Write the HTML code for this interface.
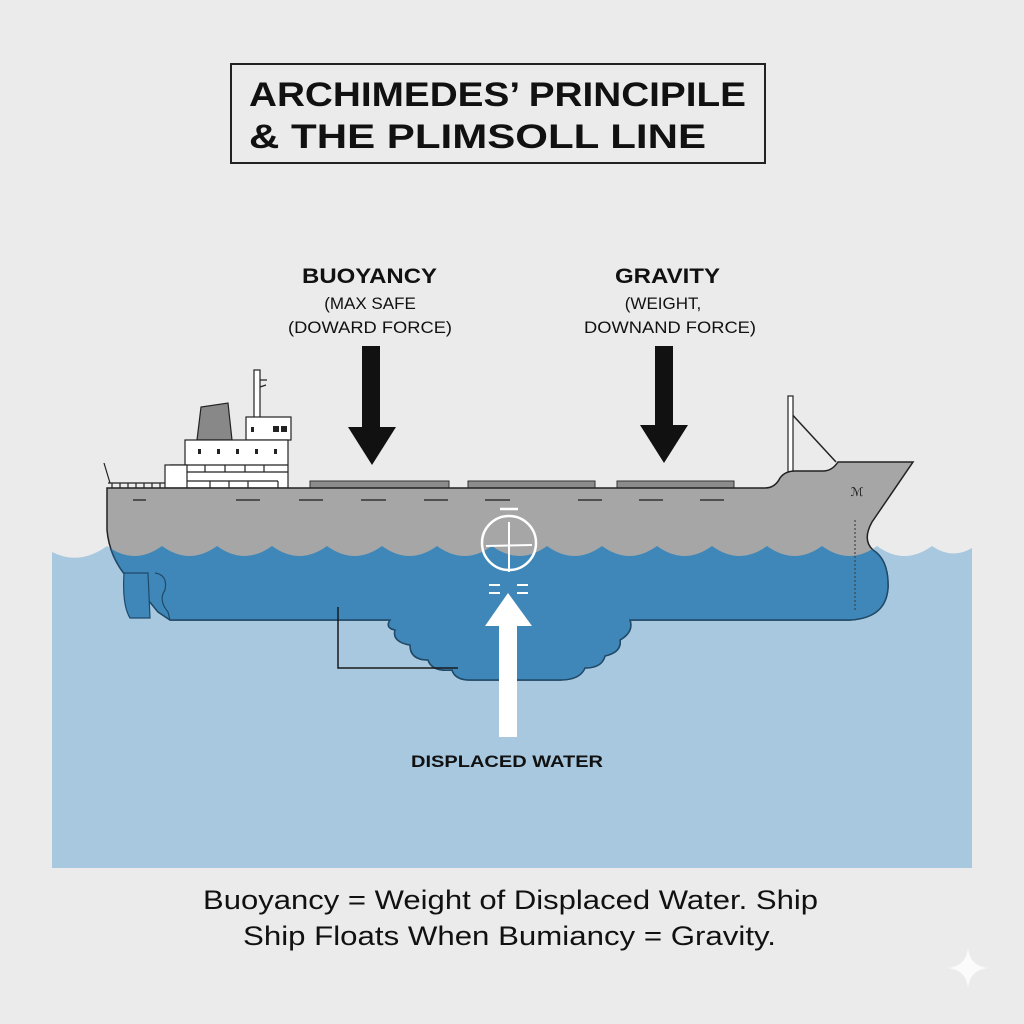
<!DOCTYPE html>
<html><head><meta charset="utf-8"><style>
html,body{margin:0;padding:0;background:#ebebeb;}
svg{display:block;}
text{font-family:"Liberation Sans",sans-serif;fill:#111;}
</style></head><body>
<svg width="1024" height="1024" viewBox="0 0 1024 1024" xmlns="http://www.w3.org/2000/svg">
<defs>
<clipPath id="wc"><path d="M52 552 Q79.5 566 107 546 Q134.5 566 162 546 Q189.5 566 217 546 Q244.5 566 272 546 Q299.5 566 327 546 Q354.5 566 382 546 Q409.5 566 437 546 Q464.5 566 492 546 Q519.5 566 547 546 Q574.5 566 602 546 Q629.5 566 657 546 Q684.5 566 712 546 Q739.5 566 767 546 Q794.5 566 822 546 Q849.5 566 877 546 Q904.5 566 932 546 Q952 560 972 548 L972 868 L52 868 Z"/></clipPath>
</defs>
<rect width="1024" height="1024" fill="#ebebeb"/>
<!-- title -->
<rect x="231" y="64" width="534" height="99" fill="none" stroke="#222" stroke-width="2"/>
<text x="249" y="106" font-size="34" font-weight="bold" textLength="497" lengthAdjust="spacingAndGlyphs">ARCHIMEDES’ PRINCIPILE</text>
<text x="249" y="148" font-size="34" font-weight="bold" textLength="457" lengthAdjust="spacingAndGlyphs">&amp; THE PLIMSOLL LINE</text>
<!-- labels -->
<text x="302" y="283" font-size="21" font-weight="bold" textLength="135" lengthAdjust="spacingAndGlyphs">BUOYANCY</text>
<text x="370" y="309" font-size="17" text-anchor="middle">(MAX SAFE</text>
<text x="288" y="333" font-size="17" textLength="164" lengthAdjust="spacingAndGlyphs">(DOWARD FORCE)</text>
<text x="615" y="283" font-size="21" font-weight="bold" textLength="105" lengthAdjust="spacingAndGlyphs">GRAVITY</text>
<text x="663" y="309" font-size="17" text-anchor="middle">(WEIGHT,</text>
<text x="584" y="333" font-size="17" textLength="172" lengthAdjust="spacingAndGlyphs">DOWNAND FORCE)</text>
<!-- down arrows -->
<rect x="362" y="346" width="18" height="82" fill="#111"/>
<polygon points="348,427 396,427 372,465" fill="#111"/>
<rect x="655" y="346" width="18" height="80" fill="#111"/>
<polygon points="640,425 688,425 664,463" fill="#111"/>
<!-- water -->
<path d="M52 552 Q79.5 566 107 546 Q134.5 566 162 546 Q189.5 566 217 546 Q244.5 566 272 546 Q299.5 566 327 546 Q354.5 566 382 546 Q409.5 566 437 546 Q464.5 566 492 546 Q519.5 566 547 546 Q574.5 566 602 546 Q629.5 566 657 546 Q684.5 566 712 546 Q739.5 566 767 546 Q794.5 566 822 546 Q849.5 566 877 546 Q904.5 566 932 546 Q952 560 972 548 L972 868 L52 868 Z" fill="#a7c8df"/>
<!-- superstructure -->
<line x1="788" y1="410" x2="836" y2="462" stroke="#222" stroke-width="1.5"/>
<rect x="788" y="396" width="5" height="76" fill="#fff" stroke="#222" stroke-width="1.2"/>
<rect x="254" y="370" width="6" height="50" fill="#fff" stroke="#222" stroke-width="1.2"/>
<path d="M260 380 L267 380 M260 387 L266 385" stroke="#222" stroke-width="1.2"/>
<polygon points="197,440 201,407 228,403 232,440" fill="#888" stroke="#222" stroke-width="1.2"/>
<rect x="246" y="417" width="45" height="23" fill="#fff" stroke="#222" stroke-width="1.2"/>
<rect x="251" y="427" width="3" height="5" fill="#222"/><rect x="273" y="426" width="6" height="6" fill="#222"/><rect x="281" y="426" width="6" height="6" fill="#222"/>
<rect x="185" y="440" width="103" height="48" fill="#fff" stroke="#222" stroke-width="1.2"/>
<g fill="#222"><rect x="198" y="449" width="3" height="5"/><rect x="217" y="449" width="3" height="5"/><rect x="236" y="449" width="3" height="5"/><rect x="255" y="449" width="3" height="5"/><rect x="274" y="449" width="3" height="5"/></g>
<path d="M170 465 L288 465 M170 472 L288 472 M186 465 V480 M205 465 V472 M225 465 V472 M245 465 V472 M264 465 V472 M183 481 L278 481 M183 481 V488 M210 481 V488 M229 481 V488 M248 481 V488 M278 481 V488" stroke="#222" stroke-width="1.2" fill="none"/>
<rect x="165" y="465" width="22" height="23" fill="#fff" stroke="#222" stroke-width="1.2"/>
<path d="M108 483 L165 483 M112 483 V488 M120 483 V488 M128 483 V488 M136 483 V488 M144 483 V488 M152 483 V488 M160 483 V488 M104 463 L110 483" stroke="#222" stroke-width="1.2"/>
<!-- hatches -->
<rect x="310" y="481" width="139" height="8" fill="#8c8c8c" stroke="#333"/>
<rect x="468" y="481" width="127" height="8" fill="#8c8c8c" stroke="#333"/>
<rect x="617" y="481" width="117" height="8" fill="#8c8c8c" stroke="#333"/>
<!-- hull -->
<path d="M107 488 L765 488 Q775 488 780 478 Q785 471 795 471 L823 471 Q832 471 838 462 L913 462 L872 522 Q862 540 873 550 Q889 560 888 588 Q886 618 850 620 L630 620 Q634 632 620 640 Q622 652 605 656 Q602 668 585 668 Q580 680 560 680 L470 680 Q455 680 452 670 Q432 672 428 660 Q410 660 410 645 Q392 642 395 630 Q385 628 390 620 L170 620 L158 612 L140 590 Q110 565 107 530 Z" fill="#a6a6a6" stroke="#222" stroke-width="1.5"/>
<g clip-path="url(#wc)">
<path d="M107 488 L765 488 Q775 488 780 478 Q785 471 795 471 L823 471 Q832 471 838 462 L913 462 L872 522 Q862 540 873 550 Q889 560 888 588 Q886 618 850 620 L630 620 Q634 632 620 640 Q622 652 605 656 Q602 668 585 668 Q580 680 560 680 L470 680 Q455 680 452 670 Q432 672 428 660 Q410 660 410 645 Q392 642 395 630 Q385 628 390 620 L170 620 L158 612 L140 590 Q110 565 107 530 Z" fill="#3f87b8" stroke="#1f4a6a" stroke-width="1.5"/>
</g>
<!-- rudder -->
<path d="M124 573 L148 573 L150 618 L130 618 Q122 605 124 573 Z" fill="#3f87b8" stroke="#1f4a6a" stroke-width="1.2"/>
<path d="M155 573 Q168 575 165 590 Q158 600 168 612 L170 620" fill="none" stroke="#1f4a6a" stroke-width="1.2"/>
<!-- deck dashes -->
<g stroke="#333" stroke-width="1.5">
<line x1="133" y1="500" x2="146" y2="500"/><line x1="236" y1="500" x2="260" y2="500"/><line x1="299" y1="500" x2="323" y2="500"/><line x1="361" y1="500" x2="386" y2="500"/><line x1="424" y1="500" x2="448" y2="500"/><line x1="485" y1="500" x2="510" y2="500"/><line x1="578" y1="500" x2="602" y2="500"/><line x1="639" y1="500" x2="663" y2="500"/><line x1="700" y1="500" x2="724" y2="500"/>
</g>
<line x1="855" y1="520" x2="855" y2="610" stroke="#444" stroke-width="1.2" stroke-dasharray="2,2"/>
<text x="857" y="496" font-size="12" text-anchor="middle" fill="#333">ℳ</text>
<!-- bracket -->
<path d="M338 607 L338 668 L458 668" fill="none" stroke="#1a1a1a" stroke-width="1.5"/>
<!-- plimsoll -->
<line x1="500" y1="509" x2="518" y2="509" stroke="#fff" stroke-width="2.5"/>
<circle cx="509" cy="543" r="27" fill="none" stroke="#fff" stroke-width="2.5"/>
<line x1="509" y1="522" x2="509" y2="572" stroke="#fff" stroke-width="2"/>
<line x1="486" y1="546" x2="532" y2="545" stroke="#fff" stroke-width="2"/>
<g stroke="#fff" stroke-width="2"><line x1="489" y1="585" x2="500" y2="585"/><line x1="489" y1="593" x2="500" y2="593"/><line x1="517" y1="585" x2="528" y2="585"/><line x1="517" y1="593" x2="528" y2="593"/></g>
<!-- up arrow -->
<polygon points="485,626 508,593 532,626" fill="#fff"/>
<rect x="499" y="625" width="18" height="112" fill="#fff"/>
<text x="411" y="767" font-size="17" font-weight="bold" textLength="192" lengthAdjust="spacingAndGlyphs">DISPLACED WATER</text>
<!-- bottom text -->
<text x="203" y="909" font-size="27" textLength="615" lengthAdjust="spacingAndGlyphs">Buoyancy = Weight of Displaced Water. Ship</text>
<text x="243" y="945" font-size="27" textLength="533" lengthAdjust="spacingAndGlyphs">Ship Floats When Bumiancy = Gravity.</text>
<path d="M968 948 Q970 966 988 968 Q970 970 968 988 Q966 970 948 968 Q966 966 968 948 Z" fill="#fff" opacity="0.8"/>
</svg>
</body></html>
